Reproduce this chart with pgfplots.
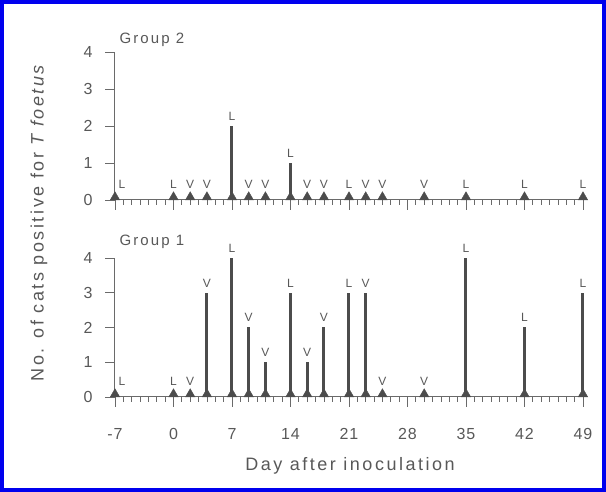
\documentclass[border=0pt]{standalone}
\usepackage{fontspec}
\setmainfont{Liberation Sans}
\newfontfamily\labfont[LetterSpace=14]{Liberation Sans}
\newfontfamily\tickfont[LetterSpace=5]{Liberation Sans}
\usepackage{pgfplots}
\pgfplotsset{compat=1.18}
\definecolor{barc}{HTML}{4C4C4C}
\definecolor{txt}{HTML}{585858}
\definecolor{axc}{HTML}{6A6A6A}
\definecolor{framec}{HTML}{0000EE}

\pgfplotstableread{
day z g2 g1 lab
-7 0 0 0 L
0  0 0 0 L
2  0 0 0 V
4  0 0 3 V
7  0 2 4 L
9  0 0 2 V
11 0 0 1 V
14 0 1 3 L
16 0 0 1 V
18 0 0 2 V
21 0 0 3 L
23 0 0 3 V
25 0 0 0 V
30 0 0 0 V
35 0 0 4 L
42 0 0 2 L
49 0 0 3 L
}\data

\pgfplotsset{
  panel/.style={
    scale only axis, width=468pt,
    xmin=-7, xmax=49, ymin=0, ymax=4,
    axis lines=left, axis line style={-, axc, line width=1pt},
    tick style={axc, line width=0.8pt},
    tick align=outside,
    xtick={-7,0,7,14,21,28,35,42,49}, minor x tick num=6,
    major tick length=10pt, minor tick length=5pt,
    ytick={0,1,2,3,4},
    ticklabel style={font=\tickfont\fontsize{16}{16}\selectfont, text=txt},
    yticklabel style={xshift=-9pt},
    /pgf/number format/assume math mode=true,
    clip=false,
  },
  bars/.style={ycomb, line width=3pt, color=barc, mark=none,
    nodes near coords, point meta=explicit symbolic,
    visualization depends on={rawy \as \val},
    visualization depends on={rawx \as \dd},
    nodes near coords style={font=\fontsize{12}{12}\selectfont, text=txt,
      anchor=south, inner sep=0pt,
      yshift={ifthenelse(\val==0,10,4)},
      xshift={ifthenelse(\dd==-7,7,0)}}},
  tri/.style={only marks, mark=triangle*, mark size=5.5pt, color=barc,
    mark options={yshift=2.75pt}},
}

\begin{document}
\begin{tikzpicture}[x=1pt,y=1pt]
  \path[use as bounding box] (0,0) rectangle (606,492);
  \draw[framec, line width=4pt] (2,2) rectangle (604,490);

  % Group 2
  \begin{axis}[panel, at={(115pt,292pt)}, anchor=south west, height=148pt,
      xticklabels={}]
    \addplot[bars] table[x=day, y=g2, meta=lab] {\data};
    \addplot[tri] table[x=day, y=z] {\data};
  \end{axis}
  \node[anchor=west, text=txt, font=\labfont\fontsize{15}{15}\selectfont]
    at (116,452) {Group 2};

  % Group 1
  \begin{axis}[panel, at={(115pt,95pt)}, anchor=south west, height=139pt,
      xticklabel style={yshift=-18pt}]
    \addplot[bars] table[x=day, y=g1, meta=lab] {\data};
    \addplot[tri] table[x=day, y=z] {\data};
  \end{axis}
  \node[anchor=west, text=txt, font=\labfont\fontsize{15}{15}\selectfont]
    at (116,250) {Group 1};

  \node[text=txt, font=\labfont\fontsize{18}{18}\selectfont]
    at (350,26) {Day after inoculation};
  \node[text=txt, rotate=90, font=\labfont\fontsize{18}{18}\selectfont]
    at (39,270) {No. of cats positive for \textit{T foetus}};
\end{tikzpicture}
\end{document}
